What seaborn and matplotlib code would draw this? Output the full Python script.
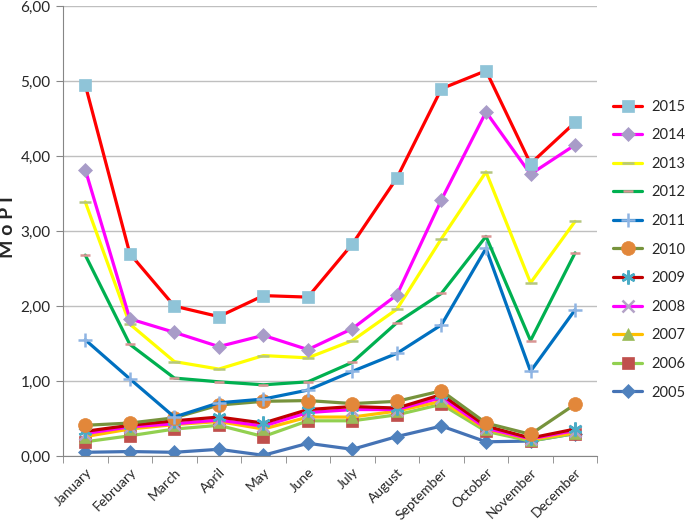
import numpy as np
import matplotlib
matplotlib.use('Agg')
import matplotlib.pyplot as plt
import seaborn as sns

months = ['January', 'February', 'March', 'April', 'May', 'June', 'July',
          'August', 'September', 'October', 'November', 'December']

y2015 = [4.95, 2.70, 2.00, 1.86, 2.14, 2.12, 2.83, 3.71, 4.90, 5.14, 3.90, 4.45]
y2014 = [3.82, 1.83, 1.65, 1.46, 1.61, 1.42, 1.70, 2.15, 3.42, 4.59, 3.76, 4.15]
y2013 = [3.39, 1.76, 1.26, 1.16, 1.34, 1.31, 1.54, 1.96, 2.90, 3.79, 2.31, 3.13]
y2012 = [2.68, 1.49, 1.04, 0.99, 0.95, 0.99, 1.25, 1.78, 2.17, 2.93, 1.54, 2.71]
y2011 = [1.55, 1.03, 0.52, 0.71, 0.76, 0.88, 1.13, 1.37, 1.75, 2.77, 1.13, 1.95]
y2010 = [0.41, 0.44, 0.51, 0.68, 0.73, 0.74, 0.70, 0.73, 0.87, 0.44, 0.29, 0.69]
y2009 = [0.33, 0.41, 0.47, 0.52, 0.44, 0.62, 0.66, 0.64, 0.82, 0.40, 0.24, 0.36]
y2008 = [0.30, 0.39, 0.43, 0.48, 0.40, 0.58, 0.62, 0.62, 0.78, 0.37, 0.23, 0.34]
y2007 = [0.26, 0.36, 0.42, 0.46, 0.36, 0.52, 0.52, 0.60, 0.73, 0.36, 0.22, 0.31]
y2006 = [0.19, 0.27, 0.36, 0.41, 0.26, 0.47, 0.47, 0.55, 0.69, 0.33, 0.20, 0.30]
y2005 = [0.05, 0.06, 0.05, 0.09, 0.01, 0.17, 0.09, 0.26, 0.40, 0.19, 0.20, 0.30]

# year: (values, line colour, marker, marker colour, marker size)
series = [
    ('2015', y2015, '#FF0000', 's', '#8FC4D8', 9),
    ('2014', y2014, '#FF00FF', 'D', '#A89CC8', 7),
    ('2013', y2013, '#FFFF00', '_', '#B5C77F', 9),
    ('2012', y2012, '#00B050', '_', '#D99594', 7),
    ('2011', y2011, '#0070C0', '+', '#8EB4E3', 10),
    ('2010', y2010, '#77933C', 'o', '#E2873A', 10),
    ('2009', y2009, '#C00000', (6, 2, 0), '#4BACC6', 10),
    ('2008', y2008, '#FF00FF', 'x', '#B3A2C7', 9),
    ('2007', y2007, '#FFC000', '^', '#9BBB59', 9),
    ('2006', y2006, '#92D050', 's', '#C0504D', 8),
    ('2005', y2005, '#4573B5', 'D', '#4F81BD', 7),
]

sns.set_style('white')
plt.rcParams['font.family'] = ['Lato', 'DejaVu Sans']

fig = plt.figure(figsize=(6.85, 5.2), dpi=100)
ax = fig.add_axes([0.092, 0.123, 0.78, 0.865])

x = np.arange(len(months))
for year, vals, lc, mk, mc, ms in reversed(series):
    sns.lineplot(x=x, y=vals, ax=ax, color=lc, linewidth=2.3, marker=mk,
                 markersize=ms, markerfacecolor=mc, markeredgecolor=mc,
                 markeredgewidth=1.8 if mk in ('+', 'x', '_', (6, 2, 0)) else 0.5,
                 label=year)
ax.get_legend().remove()

ax.set_xlim(-0.5, 11.5)
ax.set_ylim(0, 6)
ax.set_yticks(np.arange(0, 7, 1))
ax.set_yticklabels([f'{v:.2f}'.replace('.', ',') for v in range(7)], fontsize=11)
ax.yaxis.grid(True, color='#BFBFBF', linewidth=1)
ax.tick_params(axis='y', length=5, color='#868686', left=True, pad=4)

ax.set_xticks(x)
ax.set_xticklabels(months, rotation=45, ha='right', rotation_mode='anchor', fontsize=10)
ax.set_xticks(np.arange(-0.5, 12, 1), minor=True)
ax.tick_params(axis='x', which='major', length=0, pad=7)
ax.tick_params(axis='x', which='minor', length=5, color='#868686', bottom=True)

for s in ['top', 'right']:
    ax.spines[s].set_visible(False)
for s in ['left', 'bottom']:
    ax.spines[s].set_color('#868686')

ax.set_ylabel('M o P I', fontsize=14, fontweight='bold')
ax.yaxis.set_label_coords(-0.088, 0.51)

handles, labels = ax.get_legend_handles_labels()
order = np.argsort(labels)[::-1]
fig.legend([handles[i] for i in order], [labels[i] for i in order],
           loc='center left', bbox_to_anchor=(0.895, 0.52), frameon=False,
           fontsize=10.5, handlelength=2.0, handletextpad=0.6,
           labelspacing=1.0, borderpad=0, borderaxespad=0)

fig.savefig('out.png', dpi=100)
